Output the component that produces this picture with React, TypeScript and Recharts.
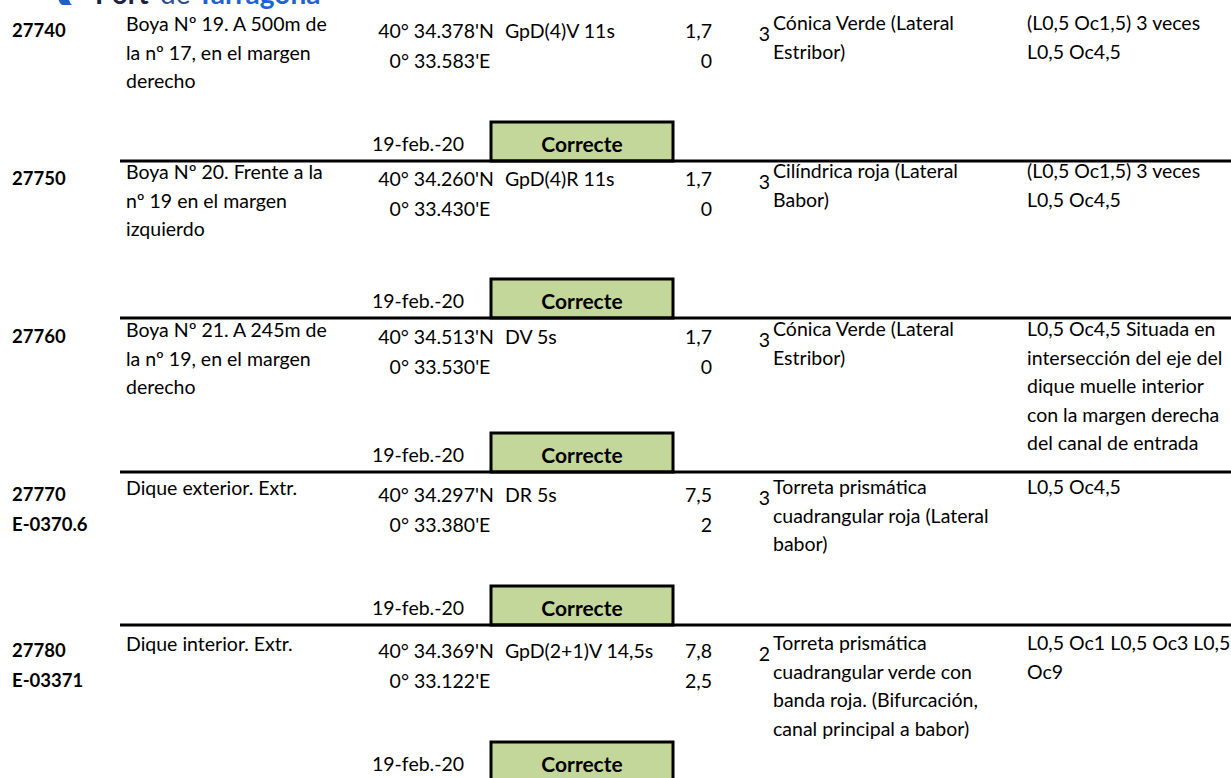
import React from "react";
import { ScatterChart, Scatter, XAxis, YAxis, ReferenceLine, ReferenceArea } from "recharts";

const W = 1231;
const H = 778;
const FONT = "Lato, 'Open Sans', sans-serif";

// table content, one entry per light
const ids = ["27740", "27750", "27760", "27770", "27780"];
const altIds = ["", "", "", "E-0370.6", "E-03371"];
const descriptions = [
  ["Boya Nº 19. A 500m de", "la nº 17, en el margen", "derecho"],
  ["Boya Nº 20. Frente a la", "nº 19 en el margen", "izquierdo"],
  ["Boya Nº 21. A 245m de", "la nº 19, en el margen", "derecho"],
  ["Dique exterior. Extr."],
  ["Dique interior. Extr."],
];
const latitudes = ["40° 34.378'N", "40° 34.260'N", "40° 34.513'N", "40° 34.297'N", "40° 34.369'N"];
const longitudes = ["0° 33.583'E", "0° 33.430'E", "0° 33.530'E", "0° 33.380'E", "0° 33.122'E"];
const characteristics = ["GpD(4)V 11s", "GpD(4)R 11s", "DV 5s", "DR 5s", "GpD(2+1)V 14,5s"];
const elevations = ["1,7", "1,7", "1,7", "7,5", "7,8"];
const heights = ["0", "0", "0", "2", "2,5"];
const ranges = ["3", "3", "3", "3", "2"];
const structures = [
  ["Cónica Verde (Lateral", "Estribor)"],
  ["Cilíndrica roja (Lateral", "Babor)"],
  ["Cónica Verde (Lateral", "Estribor)"],
  ["Torreta prismática", "cuadrangular roja (Lateral", "babor)"],
  ["Torreta prismática", "cuadrangular verde con", "banda roja. (Bifurcación,", "canal principal a babor)"],
];
const remarks = [
  ["(L0,5 Oc1,5) 3 veces", "L0,5 Oc4,5"],
  ["(L0,5 Oc1,5) 3 veces", "L0,5 Oc4,5"],
  ["L0,5 Oc4,5 Situada en", "intersección del eje del", "dique muelle interior", "con la margen derecha", "del canal de entrada"],
  ["L0,5 Oc4,5"],
  ["L0,5 Oc1 L0,5 Oc3 L0,5", "Oc9"],
];
const checkDates = ["19-feb.-20", "19-feb.-20", "19-feb.-20", "19-feb.-20", "19-feb.-20"];
const statuses = ["Correcte", "Correcte", "Correcte", "Correcte", "Correcte"];

// layout: bottom rule of every block, and a small lift of the upper text per block
const rules = [161, 318, 472, 625, 781];
const lift = [0, -9, -5, 0, 0];
const LH = 28.5;

const cell = (anchor: "start" | "middle" | "end", size: number, bold = false, lh = LH) => (props: any) => {
  const { cx, cy, payload } = props;
  return (
    <text
      x={cx}
      y={cy}
      textAnchor={anchor}
      dominantBaseline="central"
      fontFamily={FONT}
      fontSize={size}
      fontWeight={bold ? 700 : 400}
      fill="#000"
    >
      {payload.lines.map((l: string, k: number) => (
        <tspan key={k} x={cx} y={cy + k * lh}>
          {l}
        </tspan>
      ))}
    </text>
  );
};

// x of the column, y offset from the block's bottom rule
const col = (x: number, dy: number, values: (string | string[])[], lifted = true) =>
  values.map((v, i) => ({
    x,
    y: rules[i] + dy + (lifted ? lift[i] : 0),
    lines: Array.isArray(v) ? v : [v],
  }));

const Logo = () => (
  <svg style={{ position: "absolute", left: 0, top: 0 }} width={W} height={12}>
    <path d="M70 -14 Q52 -4 62 5 L72 5 Q64 -2 78 -14 Z" fill="#1f5fc8" />
    <text y={4} fontFamily={FONT} fontSize={28} fontWeight={700}>
      <tspan x={95} fill="#1a2340">Port</tspan>
      <tspan x={160} fill="#2c4f8f" fontWeight={400}>de</tspan>
      <tspan x={197} fill="#1f63d0">Tarragona</tspan>
    </text>
  </svg>
);

export default function App() {
  return (
    <div style={{ position: "absolute", left: 0, top: 0, width: W, height: H, background: "#fff", overflow: "hidden" }}>
      <ScatterChart width={W} height={H} margin={{ top: 0, right: 0, bottom: 0, left: 0 }}>
        <XAxis type="number" dataKey="x" domain={[0, W]} hide allowDataOverflow />
        <YAxis type="number" dataKey="y" domain={[0, H]} reversed hide allowDataOverflow />
        {rules.slice(0, 4).map((r) => (
          <ReferenceLine
            key={r}
            segment={[{ x: 120, y: r }, { x: W, y: r }]}
            stroke="#000"
            strokeWidth={3}
            ifOverflow="visible"
          />
        ))}
        {rules.map((r) => (
          <ReferenceArea
            key={"b" + r}
            x1={491}
            x2={673}
            y1={r - 39}
            y2={r}
            fill="#C4D79B"
            fillOpacity={1}
            stroke="#000"
            strokeWidth={3}
            ifOverflow="visible"
          />
        ))}
        <Scatter data={col(12, -131, ids)} shape={cell("start", 18.5, true)} isAnimationActive={false} />
        <Scatter data={col(12, -101, altIds)} shape={cell("start", 18.5, true)} isAnimationActive={false} />
        <Scatter data={col(126, -138, descriptions)} shape={cell("start", 19.5)} isAnimationActive={false} />
        <Scatter data={col(436, -131, latitudes)} shape={cell("middle", 19.5)} isAnimationActive={false} />
        <Scatter data={col(440, -101, longitudes)} shape={cell("middle", 19.5)} isAnimationActive={false} />
        <Scatter data={col(505, -131, characteristics)} shape={cell("start", 19.5)} isAnimationActive={false} />
        <Scatter data={col(712, -131, elevations)} shape={cell("end", 19.5)} isAnimationActive={false} />
        <Scatter data={col(712, -101, heights)} shape={cell("end", 19.5)} isAnimationActive={false} />
        <Scatter data={col(770, -128, ranges)} shape={cell("end", 19.5)} isAnimationActive={false} />
        <Scatter data={col(773, -139, structures)} shape={cell("start", 19.5)} isAnimationActive={false} />
        <Scatter data={col(1027, -139, remarks)} shape={cell("start", 19.5)} isAnimationActive={false} />
        <Scatter data={col(372, -18, checkDates, false)} shape={cell("start", 19.5)} isAnimationActive={false} />
        <Scatter data={col(582, -18, statuses, false)} shape={cell("middle", 21, true)} isAnimationActive={false} />
      </ScatterChart>
      <Logo />
    </div>
  );
}
